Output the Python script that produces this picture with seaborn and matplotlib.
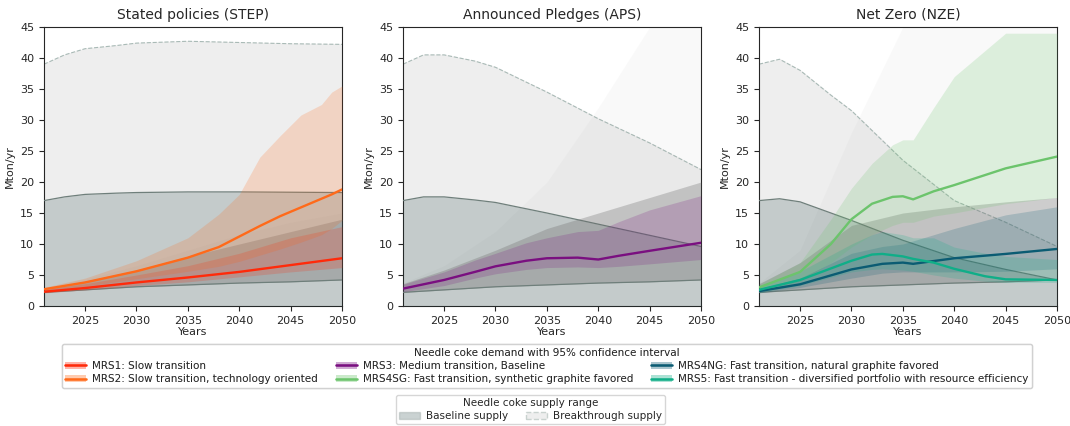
import numpy as np
import pandas as pd
import seaborn as sns
import matplotlib.pyplot as plt
from matplotlib.patches import Patch
from matplotlib.lines import Line2D

# ---- data ----
titles = ["Stated policies (STEP)", "Announced Pledges (APS)", "Net Zero (NZE)"]

# supply bands (same lower edge in every scenario)
sup_years = [2021, 2023, 2025, 2028, 2030, 2035, 2040, 2045, 2050]
base_low = [2.2, 2.4, 2.6, 2.9, 3.1, 3.4, 3.7, 3.9, 4.2]
base_up = {
    "STEP": [17.0, 17.6, 18.0, 18.2, 18.3, 18.4, 18.4, 18.35, 18.3],
    "APS": [17.0, 17.6, 17.6, 17.1, 16.7, 15.0, 13.2, 11.4, 9.6],
    "NZE": [17.0, 17.3, 16.8, 15.0, 13.8, 10.6, 7.8, 5.9, 4.2],
}
break_up = {
    "STEP": [39.0, 40.5, 41.5, 42.0, 42.4, 42.7, 42.5, 42.3, 42.2],
    "APS": [39.0, 40.5, 40.5, 39.5, 38.5, 34.5, 30.2, 26.3, 22.0],
    "NZE": [39.0, 39.8, 38.0, 34.0, 31.5, 23.5, 17.0, 13.5, 9.6],
}

# grey fan of sampled trajectories (dense part and sparse part)
fan_years = [2021, 2025, 2030, 2035, 2040, 2045, 2050]
fan_low = {
    "STEP": [2.2, 2.6, 3.1, 3.4, 3.7, 3.9, 4.2],
    "APS": [2.2, 2.6, 3.1, 3.4, 3.7, 3.9, 4.2],
    "NZE": [2.2, 2.6, 3.1, 3.4, 3.7, 3.9, 4.2],
}
fan_dense = {
    "STEP": [2.8, 4.0, 5.8, 8.0, 10.0, 12.0, 14.0],
    "APS": [3.6, 5.8, 9.0, 12.5, 15.0, 17.5, 20.0],
    "NZE": [3.6, 7.0, 13.0, 15.0, 16.0, 16.8, 17.5],
}
fan_sparse = {
    "STEP": [2.9, 4.3, 6.5, 9.0, 11.5, 13.5, 15.0],
    "APS": [3.7, 6.5, 12.0, 20.0, 32.0, 45.0, 45.0],
    "NZE": [3.7, 9.0, 28.0, 45.0, 45.0, 45.0, 45.0],
}

# demand scenarios: mean line + 95% CI
mrs1_years = [2021, 2025, 2030, 2035, 2040, 2045, 2050]
mrs1_mean = [2.3, 2.9, 3.8, 4.6, 5.5, 6.6, 7.7]
mrs1_low = [2.1, 2.6, 3.3, 3.9, 4.7, 5.5, 6.2]
mrs1_high = [2.7, 3.6, 5.0, 6.5, 8.5, 11.0, 12.8]

mrs2_years = [2021, 2025, 2030, 2035, 2038, 2040, 2042, 2044, 2046, 2048, 2049, 2050]
mrs2_mean = [2.7, 3.8, 5.6, 7.8, 9.5, 11.2, 12.9, 14.5, 15.9, 17.3, 18.0, 18.8]
mrs2_low = [2.4, 3.2, 4.4, 5.6, 6.4, 7.2, 8.2, 9.2, 10.3, 11.5, 12.5, 13.8]
mrs2_high = [3.0, 4.5, 7.3, 11.0, 14.8, 18.0, 24.0, 27.5, 30.8, 32.5, 34.5, 35.5]

mrs3_years = [2021, 2025, 2028, 2030, 2033, 2035, 2038, 2040, 2042, 2045, 2050]
mrs3_mean = [2.8, 4.2, 5.5, 6.4, 7.3, 7.7, 7.8, 7.5, 8.1, 8.9, 10.2]
mrs3_low = [2.3, 3.3, 4.5, 5.2, 5.9, 6.2, 6.3, 6.2, 6.4, 6.8, 7.5]
mrs3_high = [3.5, 5.5, 7.4, 8.5, 10.2, 11.0, 12.0, 12.2, 13.6, 15.5, 17.8]

mrs4sg_years = [2021, 2025, 2028, 2030, 2032, 2034, 2035, 2036, 2038, 2040, 2045, 2050]
mrs4sg_mean = [3.0, 5.5, 10.0, 14.0, 16.5, 17.6, 17.7, 17.2, 18.5, 19.5, 22.2, 24.1]
mrs4sg_low = [2.5, 4.0, 7.0, 9.5, 11.5, 13.0, 13.5, 13.5, 14.5, 15.0, 16.5, 17.5]
mrs4sg_high = [3.5, 7.0, 14.0, 19.0, 23.0, 26.0, 26.8, 26.8, 32.0, 37.0, 44.0, 44.0]

mrs4ng_years = [2021, 2025, 2030, 2033, 2035, 2036, 2040, 2045, 2050]
mrs4ng_mean = [2.4, 3.5, 5.9, 6.8, 7.0, 6.8, 7.7, 8.4, 9.2]
mrs4ng_low = [2.1, 3.0, 4.5, 5.3, 5.5, 5.5, 5.5, 5.6, 6.0]
mrs4ng_high = [2.8, 4.5, 8.5, 9.6, 10.0, 10.5, 12.5, 14.7, 16.0]

mrs5_years = [2021, 2025, 2030, 2032, 2033, 2035, 2036, 2038, 2040, 2043, 2045, 2050]
mrs5_mean = [2.6, 4.2, 7.3, 8.3, 8.4, 8.0, 7.6, 7.0, 6.0, 4.8, 4.3, 4.2]
mrs5_low = [2.2, 3.3, 5.5, 5.9, 6.0, 5.8, 5.6, 5.0, 4.5, 4.0, 3.8, 3.8]
mrs5_high = [3.0, 5.6, 10.0, 11.5, 12.0, 11.5, 11.0, 11.0, 9.5, 8.5, 8.0, 7.5]

labels = {
    "MRS1": "MRS1: Slow transition",
    "MRS2": "MRS2: Slow transition, technology oriented",
    "MRS3": "MRS3: Medium transition, Baseline",
    "MRS4SG": "MRS4SG: Fast transition, synthetic graphite favored",
    "MRS4NG": "MRS4NG: Fast transition, natural graphite favored",
    "MRS5": "MRS5: Fast transition - diversified portfolio with resource efficiency",
}
colors = {
    "MRS1": "#ff2a0a",
    "MRS2": "#ff6a1a",
    "MRS3": "#7a0f80",
    "MRS4SG": "#6cc46c",
    "MRS4NG": "#0b5c73",
    "MRS5": "#10ae88",
}
series = {
    "MRS1": (mrs1_years, mrs1_mean, mrs1_low, mrs1_high),
    "MRS2": (mrs2_years, mrs2_mean, mrs2_low, mrs2_high),
    "MRS3": (mrs3_years, mrs3_mean, mrs3_low, mrs3_high),
    "MRS4SG": (mrs4sg_years, mrs4sg_mean, mrs4sg_low, mrs4sg_high),
    "MRS4NG": (mrs4ng_years, mrs4ng_mean, mrs4ng_low, mrs4ng_high),
    "MRS5": (mrs5_years, mrs5_mean, mrs5_low, mrs5_high),
}
panels = {
    "STEP": ["MRS2", "MRS1"],
    "APS": ["MRS3"],
    "NZE": ["MRS4SG", "MRS4NG", "MRS5"],
}

sns.set_style("ticks")
plt.rcParams["font.family"] = ["DejaVu Sans"]
plt.rcParams["font.size"] = 8

base_col = "#2f4f4f"
fig = plt.figure(figsize=(10.7, 4.26), dpi=100)
lefts = [44 / 1070, 403 / 1070, 759 / 1070]
axes = [fig.add_axes([l, 1 - 306 / 426, 298 / 1070, 279 / 426]) for l in lefts]

for ax, key, title in zip(axes, ["STEP", "APS", "NZE"], titles):
    # breakthrough supply
    ax.fill_between(sup_years, 0, break_up[key], color="#eeeeee", zorder=0)
    ax.plot(sup_years, break_up[key], ls="--", lw=0.8, color="#a9bab6", zorder=1)
    # grey fan, sparse part
    ax.fill_between(fan_years, fan_low[key], fan_sparse[key], color="#9a9a9a", alpha=0.05, lw=0, zorder=2)
    # baseline supply
    ax.fill_between(sup_years, 0, base_up[key], color=base_col, alpha=0.22, lw=0, zorder=3)
    ax.plot(sup_years, base_up[key], color="#6f7f7b", lw=0.9, zorder=4)
    # grey fan, dense part
    ax.fill_between(fan_years, fan_low[key], fan_dense[key], color="#6a6a6a", alpha=0.3, lw=0, zorder=5)
    ax.plot(sup_years, base_low, color="#6f7f7b", lw=0.9, zorder=6)

    for name in panels[key]:
        yrs, mean, lo, hi = series[name]
        ax.fill_between(yrs, lo, hi, color=colors[name], alpha=0.2, lw=0, zorder=7)
        df = pd.DataFrame({"Years": yrs, "Mton/yr": mean})
        sns.lineplot(data=df, x="Years", y="Mton/yr", ax=ax, color=colors[name], lw=1.7, zorder=9)

    ax.set_xlim(2021, 2050)
    ax.set_ylim(0, 45)
    ax.set_xticks([2025, 2030, 2035, 2040, 2045, 2050])
    ax.set_yticks(range(0, 46, 5))
    ax.set_title(title, fontsize=10)
    ax.set_xlabel("Years", fontsize=8, labelpad=1)
    ax.set_ylabel("Mton/yr", fontsize=8)
    ax.tick_params(labelsize=8)
    for s in ax.spines.values():
        s.set_visible(True)
        s.set_linewidth(0.8)

order = ["MRS1", "MRS2", "MRS3", "MRS4SG", "MRS4NG", "MRS5"]
handles = [(Patch(facecolor=colors[n], alpha=0.3, lw=0), Line2D([], [], color=colors[n], lw=1.8)) for n in order]
leg1 = fig.legend(handles, [labels[n] for n in order], ncol=3, loc="upper center",
                  bbox_to_anchor=(0.511, 0.204), title="Needle coke demand with 95% confidence interval",
                  prop={"size": 7.5}, title_fontsize=7.5, frameon=True, handlelength=2.0,
                  handletextpad=0.6, borderpad=0.35, labelspacing=0.3, columnspacing=1.7)
sup_handles = [Patch(facecolor=base_col, alpha=0.25, edgecolor="#6f7f7b"),
               Patch(facecolor="#eeeeee", edgecolor="#c9d2cf", ls="--")]
fig.legend(sup_handles, ["Baseline supply", "Breakthrough supply"], ncol=2, loc="upper center",
           bbox_to_anchor=(0.496, 0.085), title="Needle coke supply range",
           prop={"size": 7.5}, title_fontsize=7.5, frameon=True, borderpad=0.3,
           labelspacing=0.3, columnspacing=1.7, handletextpad=0.6)
fig.add_artist(leg1)

fig.savefig("out.png", dpi=100)
